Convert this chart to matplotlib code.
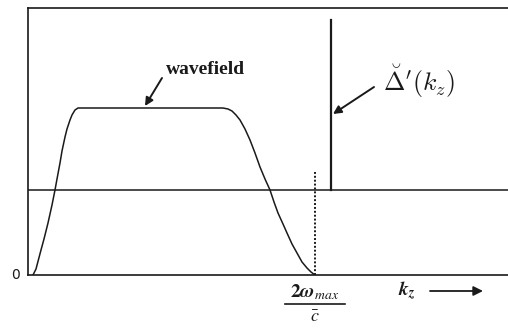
import matplotlib
matplotlib.use("Agg")
import matplotlib.pyplot as plt

plt.rcParams['mathtext.fontset'] = 'stix'
plt.rcParams['font.family'] = ['Liberation Serif', 'DejaVu Serif']

# wavefield spectrum (k_z in arbitrary units)
rise_k = [5, 8, 13, 16, 20, 24, 27, 29, 32, 34, 37, 39, 42, 44, 47, 50]
rise_a = [0, 6, 25, 36, 52, 70, 85, 96, 112, 124, 138, 146, 155, 160, 165, 167]
fall_k = [195, 200, 204, 208, 212, 217, 222, 227, 232, 237, 242,
          246, 250, 255, 259, 264, 269, 274, 279, 283, 287]
fall_a = [167, 166, 164, 160, 155, 146, 135, 122, 108, 96, 85,
          73, 62, 51, 42, 31, 22, 13, 7, 3, 0]
wave_k = rise_k + fall_k
wave_a = rise_a + fall_a

level = 85          # horizontal reference line
k_max = 287         # 2 w_max / c
k_delta = 303       # position of the delta spike
delta_top = 255
dotted_top = 103

fig = plt.figure(figsize=(5.08, 3.28), dpi=100)
ax = fig.add_axes([28/508, 53/328, 480/508, 267/328])
ax.set_xlim(0, 480)
ax.set_ylim(0, 267)

ink = '#1a1a1a'
ax.plot(wave_k, wave_a, color=ink, lw=1.1, solid_joinstyle='round')
ax.axhline(level, color=ink, lw=1.1)
ax.plot([k_delta, k_delta], [level, delta_top], color=ink, lw=1.6)
ax.plot([k_max, k_max], [0, dotted_top], color=ink, lw=1.4, ls=(0, (1, 1)))

for s in ['left', 'top', 'bottom']:
    ax.spines[s].set_color(ink)
    ax.spines[s].set_linewidth(1.2)
ax.spines['right'].set_visible(False)
ax.set_xticks([])
ax.set_yticks([])

arrow = dict(arrowstyle='-|>', color=ink, lw=1.4, mutation_scale=12, shrinkA=0, shrinkB=0)
ax.annotate('', xy=(117, 169), xytext=(134, 197), arrowprops=arrow)
ax.text(138, 205, 'wavefield', fontsize=14, fontweight='bold', color=ink,
        ha='left', va='center')
ax.annotate('', xy=(305, 161), xytext=(346, 188), arrowprops=arrow)
ax.text(355, 194, r"$\breve{\Delta}'(k_z)$", fontsize=18.5, color=ink,
        ha='left', va='center', math_fontfamily='cm')

ax.text(-8, 0, '0', fontsize=10, family='DejaVu Sans', ha='right', va='center',
        color=ink, clip_on=False)
ax.text(k_max, -7, r'$\mathbf{2}\boldsymbol{\omega}_{max}$', fontsize=14, ha='center',
        va='top', color=ink, clip_on=False)
ax.plot([k_max - 30, k_max + 30], [-29, -29], color=ink, lw=1.2, clip_on=False)
ax.text(k_max, -34, r'$\bar{c}$', fontsize=13, ha='center', va='top', color=ink,
        clip_on=False)
ax.text(370, -16, r'$\mathbfit{k}_{\mathbfit{z}}$', fontsize=14, ha='left', va='center',
        color=ink, clip_on=False)
ax.annotate('', xy=(455, -16), xytext=(402, -16), annotation_clip=False,
            arrowprops=dict(arrowstyle='-|>', color=ink, lw=1.3, mutation_scale=14,
                            shrinkA=0, shrinkB=0))

fig.savefig('out.png', dpi=100)
